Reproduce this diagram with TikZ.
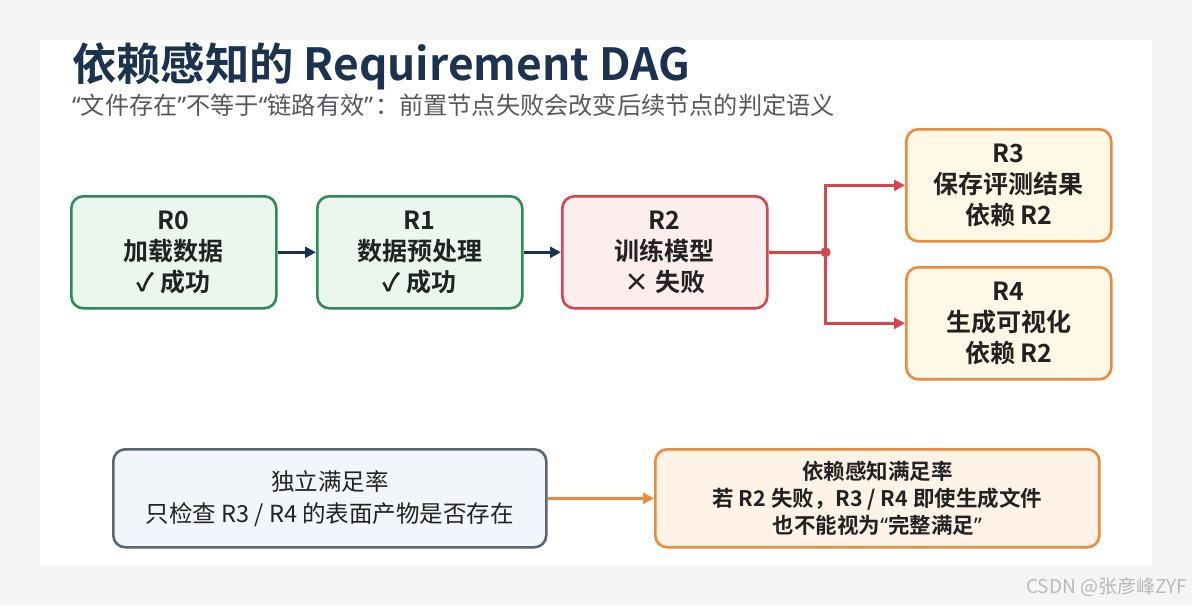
\documentclass[tikz,border=0pt]{standalone}
\usepackage{fontspec}
\setmainfont{Noto Sans CJK SC}[BoldFont={Noto Sans CJK SC Bold}]
\newfontfamily\latf{Noto Sans}
\newcommand\qopen{{\latf “}}
\newcommand\qclose{{\latf ”}}
\usetikzlibrary{arrows.meta,calc}
\definecolor{navy}{HTML}{1B3350}
\definecolor{subg}{HTML}{55595E}
\definecolor{gbd}{HTML}{2E8B57}
\definecolor{gfl}{HTML}{EAF6EE}
\definecolor{rbd}{HTML}{D6464A}
\definecolor{rfl}{HTML}{FDEEEE}
\definecolor{obd}{HTML}{EE8A3A}
\definecolor{ofl}{HTML}{FFF8E6}
\definecolor{ofl2}{HTML}{FFF3E8}
\definecolor{sbd}{HTML}{5A6670}
\definecolor{sfl}{HTML}{F2F5F9}
\definecolor{txt}{HTML}{222222}
\tikzset{
  box/.style={draw, line width=2.6pt, rounded corners=12pt, minimum width=205pt, minimum height=112pt, align=center, font=\fontsize{25}{31}\selectfont\bfseries, text=txt, anchor=north west, inner sep=0pt},
  gbox/.style={box, draw=gbd, fill=gfl},
  rbox/.style={box, draw=rbd, fill=rfl},
  obox/.style={box, draw=obd, fill=ofl},
  arr/.style={line width=2.6pt, -{Triangle[length=11pt,width=11pt]}},
}
\begin{document}
\begin{tikzpicture}[x=1pt,y=-1pt]
\useasboundingbox (0,0) rectangle (1192,606);
\fill[gray!8] (0,0) rectangle (1192,606);
\fill[white] (40,40) rectangle (1152,565);
\node[anchor=base west, text=navy, font=\fontsize{44.3}{50}\selectfont\bfseries, inner sep=0pt] (title) at (72,80) {依赖感知的 Requirement DAG};
\node[anchor=base west, text=subg, font=\fontsize{24.2}{28}\selectfont, inner sep=0pt] (sub) at (72,114) {\qopen 文件存在\qclose 不等于\qopen 链路有效\qclose\hspace{2pt}：前置节点失败会改变后续节点的判定语义};

\node[gbox] (r0) at (70,195) {R0\\加载数据\\✓ 成功};
\node[gbox] (r1) at (316,195) {R1\\数据预处理\\✓ 成功};
\node[rbox] (r2) at (561,195) {R2\\训练模型\\× 失败};
\node[obox] (r3) at (905,128) {R3\\保存评测结果\\依赖 R2};
\node[obox] (r4) at (905,266) {R4\\生成可视化\\依赖 R2};

\draw[arr, navy] (r0) -- (r1);
\draw[arr, navy] (r1) -- (r2);
\coordinate (j) at ($(r2.east)+(57,0)$);
\draw[rbd, line width=2.6pt] (r2.east) -- (j);
\fill[rbd] (j) circle (5pt);
\draw[arr, rbd] (j) |- (r3.west);
\draw[arr, rbd] (j) |- (r4.west);

\node[draw=sbd, fill=sfl, line width=2.6pt, rounded corners=12pt, minimum width=433pt, minimum height=98pt, align=center, anchor=north west, inner sep=0pt, text=txt, font=\fontsize{23.5}{32}\selectfont] (ind) at (112,448) {独立满足率\\只检查 R3 / R4 的表面产物是否存在};
\node[draw=obd, fill=ofl2, line width=2.6pt, rounded corners=12pt, minimum width=444pt, minimum height=98pt, align=center, anchor=north west, inner sep=0pt, text=txt, font=\fontsize{21.5}{27}\selectfont\bfseries] (dep) at (654,448) {依赖感知满足率\\若 R2 失败，R3 / R4 即使生成文件\\也不能视为\qopen 完整满足\qclose};
\draw[arr, obd] (ind) -- (dep);

\node[anchor=base east, text=gray!55, font=\fontsize{19}{22}\selectfont, inner sep=0pt] (wm) at (1187,593) {CSDN @张彦峰ZYF};
\end{tikzpicture}
\end{document}
